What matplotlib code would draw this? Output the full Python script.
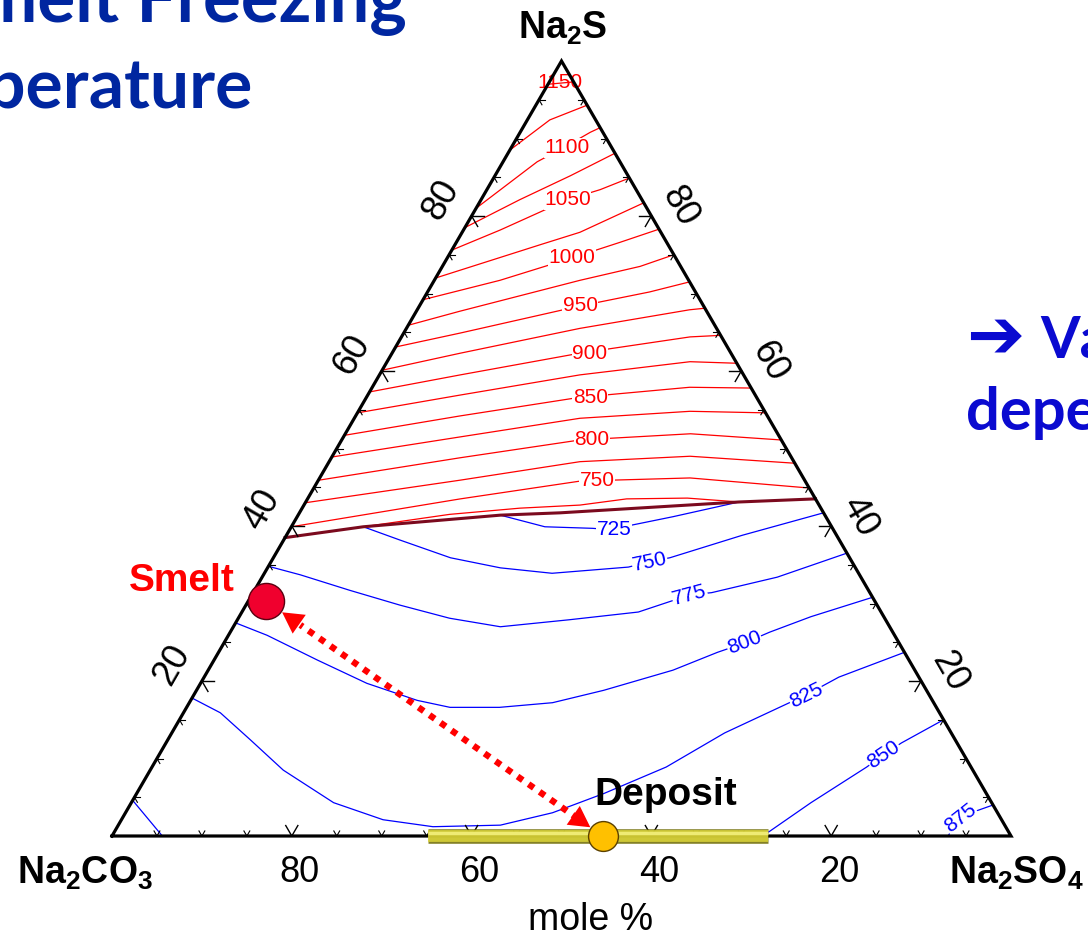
import matplotlib.pyplot as plt
import numpy as np

plt.rcParams['font.family'] = ['Liberation Sans', 'DejaVu Sans']
plt.rcParams['mathtext.fontset'] = 'custom'
plt.rcParams['mathtext.rm'] = 'Liberation Sans'
plt.rcParams['mathtext.bf'] = 'Liberation Sans:bold'

# Isotherms as (mol% Na2SO4, mol% Na2S) points; Na2CO3 is the balance.
# Na2S primary field (above the eutectic valley)
na2s_field = {
    725: [(8.0, 39.9), (16.8, 41.5), (24.2, 42.3), (30.7, 42.7), (35.5, 43.5), (42.2, 43.6), (48.2, 43.1)],
    750: [(0, 39.9), (17.0, 43.5), (29.2, 45.8), (41.2, 46.2), (55.1, 44.9)],
    775: [(0, 43.0), (15.7, 45.9), (27.9, 48.3), (39.8, 49.0), (51.9, 48.1)],
    800: [(0, 45.9), (14.3, 48.8), (26.5, 51.1), (38.4, 51.9), (48.9, 51.1)],
    825: [(0, 48.9), (13.0, 51.5), (25.1, 53.9), (36.9, 54.8), (45.4, 54.6)],
    850: [(0, 51.7), (11.6, 54.2), (23.7, 56.6), (35.3, 57.9), (42.2, 57.8)],
    875: [(0, 54.6), (10.3, 56.9), (22.3, 59.5), (33.7, 61.2), (39.0, 61.0)],
    900: [(0, 57.3), (9.0, 59.5), (20.9, 62.3), (32.1, 64.4), (35.4, 64.6)],
    925: [(0, 60.1), (7.6, 62.3), (19.3, 65.5), (30.3, 67.9), (31.9, 68.1)],
    950: [(0, 63.1), (6.3, 64.9), (17.9, 68.4), (24.7, 70.2), (28.5, 71.5)],
    975: [(0, 65.9), (4.8, 67.7), (16.2, 71.7), (22.0, 73.5), (25.0, 75.0)],
    1000: [(0, 69.2), (7.3, 71.7), (13.9, 74.6), (18.2, 76.6), (21.7, 78.3)],
    1025: [(0, 72.0), (9.5, 76.3), (13.1, 77.9), (18.3, 81.7)],
    1050: [(0, 75.6), (4.1, 78.2), (9.6, 82.1), (12.6, 83.4), (15.1, 84.9)],
    1075: [(0, 78.5), (4.3, 82.1), (8.4, 85.2), (11.9, 88.1)],
    1100: [(0, 81.0), (3.8, 87.0), (5.8, 88.8), (7.8, 90.8), (8.6, 91.4)],
    1125: [(0, 88.5), (2.5, 92.4), (5.7, 94.3)],
    1150: [(0, 97.0), (2.7, 97.3)],
}

# Na2CO3-Na2SO4 solid solution field (below the valley)
solid_solution_field = {
    725: [(22.5, 41.4), (28.2, 39.9), (33.6, 39.7), (36.1, 39.5), (37.7, 40.1), (41.8, 41.2), (48.2, 43.1)],
    750: [(8.0, 39.9), (12.9, 38.2), (19.7, 35.9), (25.9, 34.6), (32.0, 33.9), (40.1, 34.7),
          (42.1, 35.4), (44.1, 35.9), (50.7, 38.8), (58.3, 41.7)],
    775: [(0, 34.8), (4.1, 33.7), (10.6, 31.7), (17.1, 29.8), (23.5, 28.1), (29.7, 27.0), (36.9, 27.9),
          (44.1, 28.9), (48.7, 31.1), (51.0, 31.4), (57.3, 33.4), (63.5, 36.5)],
    800: [(0, 27.5), (4.3, 25.9), (11.5, 22.7), (18.5, 19.7), (25.2, 17.5), (29.3, 16.6), (34.8, 16.6),
          (40.4, 17.2), (45.3, 18.8), (51.7, 21.4), (55.5, 23.7), (57.9, 24.9), (60.0, 26.3),
          (63.6, 28.3), (69.2, 30.8)],
    825: [(0, 17.8), (4.1, 15.9), (9.2, 12.4), (14.8, 8.5), (22.5, 4.3), (29.1, 2.1), (35.1, 1.2),
          (42.5, 1.4), (47.5, 3.0), (52.0, 5.5), (57.2, 8.9), (61.5, 13.3), (68.1, 18.2),
          (70.6, 20.5), (76.3, 23.7)],
    850: [(72.4, 0), (75.6, 4.3), (79.5, 8.9), (80.6, 10.5), (81.8, 12.0), (85.0, 15.0)],
    875: [(93.0, 0), (93.1, 2.5), (96.0, 4.0)],
}
corner_850 = [(0, 4.6), (5.6, 0)]

# Boundary between the two primary fields
valley = [(0, 38.5), (8.0, 39.9), (22.5, 41.4), (29.0, 41.7), (48.2, 43.1), (56.5, 43.5)]

# Isotherm labels: (temperature, Na2SO4, Na2S[, text angle])
red_labels = [(750, 31.0, 45.9), (800, 27.8, 51.1), (850, 24.9, 56.6), (900, 22.0, 62.3),
              (950, 17.9, 68.4), (1000, 13.9, 74.6), (1050, 9.6, 82.1), (1100, 6.2, 88.8)]
blue_labels = [(725, 36.1, 39.5, 0), (750, 42.1, 35.4, 12), (775, 48.7, 31.1, 15), (800, 57.9, 24.9, 21),
               (825, 68.1, 18.2, 26), (850, 80.6, 10.5, 34), (875, 93.2, 2.3, 38)]

axis_ticks = [20, 40, 60, 80]
smelt = (2.0, 30.3)
deposit = (54.6, 0.0)
deposit_range = [35.1, 73.0]


def tern(so4, s):
    so4 = np.asarray(so4, dtype=float) / 100
    s = np.asarray(s, dtype=float) / 100
    return so4 + s / 2, s


def draw(pts, **kw):
    so4, s = zip(*pts)
    x, y = tern(so4, s)
    ax.plot(x, y, **kw)


fig = plt.figure(figsize=(10.88, 9.41), dpi=100)
ax = fig.add_axes([0, 0, 1, 1])
ax.set_xlim(-112 / 899, 976 / 899)
ax.set_ylim(-105 / 775, 836 / 775)
ax.axis('off')

for t, pts in na2s_field.items():
    draw(pts, color='#ff0000', lw=0.9, zorder=2)
for t, pts in solid_solution_field.items():
    draw(pts, color='#0000ff', lw=0.9, zorder=2)
draw(corner_850, color='#0000ff', lw=0.9, zorder=2)
draw(valley, color='#7b0a1e', lw=2.2, zorder=3)

for t, so4, s in red_labels:
    ax.text(*tern(so4, s), str(t), color='#ff0000', fontsize=15, ha='center', va='center', zorder=3,
            bbox=dict(facecolor='white', edgecolor='none', pad=0.3))
ax.text(*tern(1.2, 97.2), '1150', color='#ff0000', fontsize=15, ha='center', va='center', zorder=3)
for t, so4, s, ang in blue_labels:
    ax.text(*tern(so4, s), str(t), color='#0000ff', fontsize=15, ha='center', va='center', zorder=3,
            rotation=ang, rotation_mode='anchor',
            bbox=dict(facecolor='white', edgecolor='none', pad=0.3))

# triangle frame
frame_x, frame_y = tern([0, 100, 0, 0], [0, 0, 100, 0])
ax.plot(frame_x, frame_y, color='black', lw=2.3, solid_joinstyle='miter', zorder=4)

# ticks every 5 %, drawn along the two grid directions that enter the triangle
for v in range(5, 100, 5):
    L = 1.35 if v % 20 == 0 else 0.65
    w = 1.0 if v % 20 == 0 else 0.8
    for a, b in [((v, 0), (v, L)), ((v, 0), (v - L, L)),
                 ((0, v), (L, v)), ((0, v), (L, v - L)),
                 ((100 - v, v), (100 - v - L, v)), ((100 - v, v), (100 - v, v - L))]:
        draw([a, b], color='black', lw=w, zorder=4)

for v in axis_ticks:
    ax.annotate(str(100 - v), tern(v, 0), xytext=(8, -37), textcoords='offset pixels',
                ha='center', va='center', fontsize=26)
    ax.annotate(str(v), tern(0, v), xytext=(-30, 16), textcoords='offset pixels',
                ha='center', va='center', fontsize=26, rotation=60)
    ax.annotate(str(v), tern(100 - v, v), xytext=(28, 9), textcoords='offset pixels',
                ha='center', va='center', fontsize=26, rotation=-60)

ax.annotate(r'$\mathbf{Na_2S}$', tern(0, 100), xytext=(1, 33), textcoords='offset pixels',
            ha='center', va='center', fontsize=27)
ax.annotate(r'$\mathbf{Na_2CO_3}$', tern(0, 0), xytext=(-27, -37), textcoords='offset pixels',
            ha='center', va='center', fontsize=27)
ax.annotate(r'$\mathbf{Na_2SO_4}$', tern(100, 0), xytext=(6, -37), textcoords='offset pixels',
            ha='center', va='center', fontsize=27)
fig.text(591 / 1088, 1 - 920 / 941, 'mole %', ha='center', va='center', fontsize=27)

# deposit composition range along the base
bx, by = tern(deposit_range, [0, 0])
ax.plot(bx, by, color='#6e6a00', lw=10.5, solid_capstyle='butt', alpha=0.85, zorder=5)
ax.plot(bx, by, color='#dcd53a', lw=8.5, solid_capstyle='butt', alpha=0.85, zorder=5)
ax.plot(bx, by + 3 / 775, color='#f3f07c', lw=2.5, solid_capstyle='butt', alpha=0.9, zorder=5)

# dotted double arrow between smelt and deposit
sp = np.array(tern(*smelt))
dp = np.array(tern(*deposit))
ax.annotate('', xy=sp, xytext=dp,
            arrowprops=dict(arrowstyle='-', color='#ff0000', lw=4.6, ls=(0, (1, 1.1)),
                            capstyle='butt', shrinkA=22, shrinkB=30), zorder=6)
for tip, other, shrink in [(sp, dp, 14), (dp, sp, 11)]:
    back = tip + 0.12 * (other - tip)
    ax.annotate('', xy=tip, xytext=back,
                arrowprops=dict(arrowstyle='-|>,head_length=1.0,head_width=0.55', mutation_scale=15,
                                color='#ff0000', lw=0, shrinkA=0, shrinkB=shrink), zorder=6)

ax.plot(*sp, 'o', ms=26, mfc='#f0002e', mec='#5a0010', mew=1, zorder=7)
ax.plot(*dp, 'o', ms=21.5, mfc='#ffc000', mec='#5a4000', mew=1, zorder=7)
ax.annotate('Smelt', sp, xytext=(-84, 20), textcoords='offset pixels', color='#ff0000',
            fontsize=28, fontweight='bold', ha='center', va='center', zorder=8)
ax.annotate('Deposit', dp, xytext=(63, 41), textcoords='offset pixels', color='black',
            fontsize=28, fontweight='bold', ha='center', va='center', zorder=8)

# slide text around the diagram
title_font = ['Lato', 'DejaVu Sans']
fig.text(407 / 1088, 1 - 22 / 941, 'Smelt Freezing', ha='right', va='baseline', fontsize=51,
         fontweight='bold', color='#0026a0', family=title_font)
fig.text(252 / 1088, 1 - 108 / 941, 'Temperature', ha='right', va='baseline', fontsize=50,
         fontweight='bold', color='#0026a0', family=title_font)
fig.text(966 / 1088, 1 - 358 / 941, '\u2794', ha='left', va='baseline', fontsize=50,
         color='#0a0ad0', family=['DejaVu Sans'])
fig.text(1040 / 1088, 1 - 358 / 941, 'Va', ha='left', va='baseline', fontsize=41,
         fontweight='bold', color='#0a0ad0', family=title_font)
fig.text(966 / 1088, 1 - 430 / 941, 'depe', ha='left', va='baseline', fontsize=43,
         fontweight='bold', color='#0a0ad0', family=title_font)

fig.savefig('out.png', dpi=100, facecolor='white')
